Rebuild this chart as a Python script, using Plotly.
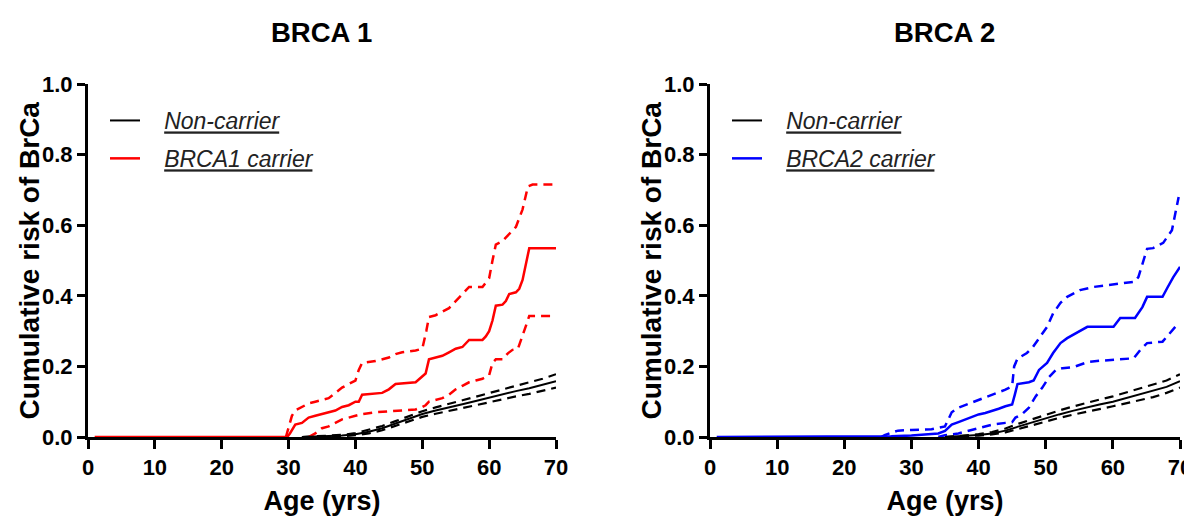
import plotly.graph_objects as go

# ---------------- data ----------------
x_ticks = [0, 10, 20, 30, 40, 50, 60, 70]
y_ticks = [0.0, 0.2, 0.4, 0.6, 0.8, 1.0]

# BRCA1 panel
b1_age = [1, 29.8, 30.2, 31, 32, 33, 34, 35, 36, 37, 38, 39, 40, 40.5, 41, 44, 45, 46, 49, 50,
          50.5, 51, 52, 53, 54, 55, 56, 57, 59, 59.5, 60, 60.5, 61, 62, 62.5, 63, 64, 64.5, 65,
          65.6, 66, 70]
b1_risk = [0, 0, 0.01, 0.035, 0.04, 0.055, 0.06, 0.065, 0.068, 0.075, 0.085, 0.09, 0.10, 0.10,
           0.12, 0.125, 0.135, 0.15, 0.155, 0.17, 0.18, 0.22, 0.225, 0.23, 0.24, 0.25, 0.255,
           0.275, 0.275, 0.285, 0.30, 0.33, 0.372, 0.375, 0.385, 0.405, 0.41, 0.42, 0.445, 0.50,
           0.535, 0.535]
b1_up_age = [29.6, 30, 30.5, 31, 32, 33, 34, 35, 36, 37, 38, 39, 40, 40.5, 41, 43, 44, 45, 46, 47,
             49, 50, 50.6, 51, 52, 53, 54, 55, 56, 57, 59, 60, 60.5, 61, 62, 63, 64, 65, 65.8,
             66.5, 69.8]
b1_up = [0, 0.03, 0.06, 0.075, 0.085, 0.095, 0.10, 0.105, 0.11, 0.125, 0.14, 0.15, 0.16, 0.19,
         0.21, 0.215, 0.22, 0.225, 0.235, 0.24, 0.245, 0.25, 0.30, 0.34, 0.345, 0.355, 0.365,
         0.385, 0.405, 0.425, 0.425, 0.45, 0.50, 0.545, 0.555, 0.575, 0.595, 0.645, 0.71, 0.715,
         0.715]
b1_lo_age = [33, 34, 35, 36, 37, 38, 40, 41, 43, 45, 47, 49, 50, 50.5, 51, 52, 53, 54, 55, 56, 57,
             58, 59, 60, 60.5, 61, 62, 62.8, 63.5, 64.3, 65, 65.6, 66, 69.5]
b1_lo = [0, 0.01, 0.025, 0.03, 0.04, 0.05, 0.06, 0.065, 0.07, 0.072, 0.075, 0.078, 0.085, 0.09,
         0.10, 0.105, 0.11, 0.12, 0.135, 0.145, 0.155, 0.16, 0.165, 0.175, 0.21, 0.22, 0.22,
         0.237, 0.247, 0.25, 0.285, 0.32, 0.343, 0.343]
nc1_age = [32, 36, 38, 40, 42, 44, 46, 48, 50, 52, 54, 56, 58, 60, 62, 64, 66, 68, 70]
nc1_risk = [0, 0.002, 0.004, 0.008, 0.015, 0.025, 0.038, 0.052, 0.065, 0.075, 0.083, 0.093,
            0.102, 0.112, 0.122, 0.13, 0.138, 0.148, 0.158]
nc1_up = [0, 0.003, 0.006, 0.011, 0.02, 0.031, 0.045, 0.06, 0.073, 0.084, 0.093, 0.104, 0.114,
          0.125, 0.136, 0.145, 0.155, 0.165, 0.178]
nc1_lo = [0, 0.001, 0.002, 0.005, 0.01, 0.019, 0.031, 0.044, 0.057, 0.066, 0.073, 0.082, 0.09,
          0.099, 0.108, 0.115, 0.122, 0.131, 0.14]

# BRCA2 panel
b2_age = [1, 26, 27, 30, 33, 34, 35, 36, 37, 38, 39, 40, 41, 42, 43, 44, 45, 45.4, 45.8, 47.5,
          48.2, 49, 50.2, 51.1, 52.2, 53.2, 54.7, 56.2, 60.1, 61.1, 63.3, 64.4, 65.1, 67.4, 68.1,
          69, 70]
b2_risk = [0, 0, 0.002, 0.004, 0.008, 0.01, 0.017, 0.035, 0.042, 0.05, 0.056, 0.064, 0.068,
           0.073, 0.08, 0.087, 0.092, 0.12, 0.15, 0.155, 0.16, 0.19, 0.21, 0.238, 0.266, 0.28,
           0.297, 0.312, 0.312, 0.337, 0.337, 0.368, 0.397, 0.397, 0.422, 0.453, 0.482]
b2_up_age = [25.5, 26, 27, 28, 30, 33, 34, 35, 35.5, 36, 37, 38, 40, 42, 44, 45, 45.3, 45.8, 47.2,
             48.1, 49.2, 50.2, 51.1, 52.2, 53.2, 55.1, 57.1, 61.1, 63.3, 63.8, 64.5, 65.1, 66,
             67.5, 68.8, 69.3, 69.8]
b2_up = [0, 0.005, 0.012, 0.018, 0.02, 0.022, 0.026, 0.03, 0.05, 0.07, 0.083, 0.09, 0.106, 0.12,
         0.134, 0.144, 0.2, 0.222, 0.238, 0.255, 0.283, 0.312, 0.35, 0.38, 0.397, 0.416, 0.425,
         0.436, 0.44, 0.453, 0.50, 0.533, 0.535, 0.55, 0.586, 0.634, 0.68]
b2_lo_age = [34, 35, 37, 39, 40, 42, 44, 45, 45.5, 46.5, 47.5, 48.5, 49.5, 50.5, 51.5, 52.5, 54.1,
             56.2, 58.1, 61.1, 63.1, 64.1, 65.1, 67.4, 68.6, 69.3]
b2_lo = [0, 0.005, 0.01, 0.02, 0.023, 0.035, 0.04, 0.042, 0.055, 0.065, 0.083, 0.115, 0.14, 0.17,
         0.19, 0.195, 0.198, 0.212, 0.216, 0.22, 0.223, 0.247, 0.266, 0.27, 0.297, 0.312]
nc2_age = [35, 38, 40, 42, 44, 46, 48, 50, 52, 54, 56, 58, 60, 62, 64, 66, 68, 70]
nc2_risk = [0, 0.003, 0.006, 0.01, 0.018, 0.03, 0.042, 0.053, 0.064, 0.074, 0.084, 0.092, 0.1,
            0.11, 0.12, 0.13, 0.142, 0.158]
nc2_up = [0, 0.004, 0.008, 0.014, 0.024, 0.038, 0.051, 0.063, 0.075, 0.086, 0.097, 0.106, 0.115,
          0.126, 0.137, 0.148, 0.16, 0.178]
nc2_lo = [0, 0.002, 0.004, 0.007, 0.013, 0.023, 0.034, 0.044, 0.054, 0.063, 0.072, 0.079, 0.087,
          0.095, 0.104, 0.113, 0.125, 0.14]

# ---------------- figure ----------------
FONT = "Liberation Sans, Arial, sans-serif"
RED = "#ff0000"
BLUE = "#0000ff"
DASH = "9px,6px"

fig = go.Figure()

def add(x, y, color, width, dash, xa, ya, name=None, legend=None, show=False, group=None):
    fig.add_trace(go.Scatter(
        x=x, y=y, mode="lines", xaxis=xa, yaxis=ya,
        line=dict(color=color, width=width, dash=dash),
        name=name, showlegend=show, legend=legend, legendgroup=group,
        hoverinfo="skip"))

def lname(t):
    return "\u00a0\u00a0\u00a0<i><u>" + t + "</u></i>"

# Left panel
add(nc1_age, nc1_up, "black", 2.2, DASH, "x", "y")
add(nc1_age, nc1_lo, "black", 2.2, DASH, "x", "y")
add(b1_up_age, b1_up, RED, 2.5, DASH, "x", "y")
add(b1_lo_age, b1_lo, RED, 2.5, DASH, "x", "y")
add(nc1_age, nc1_risk, "black", 2, "solid", "x", "y", lname("Non-carrier"), "legend", True, "a1")
add(b1_age, b1_risk, RED, 2.5, "solid", "x", "y", lname("BRCA1 carrier"), "legend", True, "b1")

# Right panel
add(nc2_age, nc2_up, "black", 2.2, DASH, "x2", "y2")
add(nc2_age, nc2_lo, "black", 2.2, DASH, "x2", "y2")
add(b2_up_age, b2_up, BLUE, 2.5, DASH, "x2", "y2")
add(b2_lo_age, b2_lo, BLUE, 2.5, DASH, "x2", "y2")
add(nc2_age, nc2_risk, "black", 2, "solid", "x2", "y2", lname("Non-carrier"), "legend2", True, "a2")
add(b2_age, b2_risk, BLUE, 2.5, "solid", "x2", "y2", lname("BRCA2 carrier"), "legend2", True, "b2")

# page has an 8px body margin -> figure is 8px smaller and positions are shifted
OFF = 8
W, H = 1192 - OFF, 521 - OFF

def fx(px):
    return (px - OFF) / W

def fy(py):
    return 1 - (py - OFF) / H

yd = [fy(437), fy(84)]
xd1 = [fx(88), fx(556)]
xd2 = [fx(710), fx(1180)]

tickfont = dict(family=FONT, size=22, color="black", weight="bold")
titlefont = dict(family=FONT, size=27, color="black", weight="bold")

def xax(domain, anchor):
    return dict(domain=domain, anchor=anchor, range=[0, 70], tickvals=x_ticks,
                ticks="outside", ticklen=9, tickwidth=2.5, tickcolor="black",
                showline=True, linewidth=3, linecolor="black", showgrid=False,
                zeroline=False, tickfont=tickfont, layer="below traces", automargin=False,
                ticklabeloverflow="allow",
                title=dict(text="Age (yrs)", font=titlefont, standoff=12))

def yax(anchor):
    return dict(domain=yd, anchor=anchor, range=[0, 1.0], tickvals=y_ticks,
                tickformat=".1f", ticks="outside", ticklen=8, tickwidth=2.5,
                tickcolor="black", showline=True, linewidth=3, linecolor="black",
                showgrid=False, zeroline=False, tickfont=tickfont, layer="below traces",
                automargin=False, ticklabeloverflow="allow")

ytitle_font = dict(family=FONT, size=28, color="black", weight="bold")
title_font = dict(family=FONT, size=27.5, color="black", weight="bold")
legfont = dict(family=FONT, size=23, color="#222222")
ymid = (yd[0] + yd[1]) / 2
fig.update_layout(
    width=W, height=H,
    margin=dict(l=0, r=0, t=0, b=0, pad=0, autoexpand=False),
    paper_bgcolor="white", plot_bgcolor="white",
    xaxis=xax(xd1, "y"), yaxis=yax("x"),
    xaxis2=xax(xd2, "y2"), yaxis2=yax("x2"),
    legend=dict(x=fx(105), y=fy(99), xanchor="left", yanchor="top",
                font=legfont, bgcolor="rgba(0,0,0,0)", tracegroupgap=5,
                itemwidth=30),
    legend2=dict(x=fx(727), y=fy(99), xanchor="left", yanchor="top",
                 font=legfont, bgcolor="rgba(0,0,0,0)", tracegroupgap=5,
                 itemwidth=30),
    showlegend=True,
    annotations=[
        dict(text="BRCA 1", x=fx(321), y=fy(32), xref="paper", yref="paper",
             xanchor="center", yanchor="middle", showarrow=False, font=title_font),
        dict(text="BRCA 2", x=fx(944), y=fy(32), xref="paper", yref="paper",
             xanchor="center", yanchor="middle", showarrow=False, font=title_font),
        dict(text="Cumulative risk of BrCa", x=fx(29), y=ymid, xref="paper",
             yref="paper", xanchor="center", yanchor="middle", textangle=-90,
             showarrow=False, font=ytitle_font),
        dict(text="Cumulative risk of BrCa", x=fx(651), y=ymid, xref="paper",
             yref="paper", xanchor="center", yanchor="middle", textangle=-90,
             showarrow=False, font=ytitle_font),
    ],
)

fig.write_html("out.html")
